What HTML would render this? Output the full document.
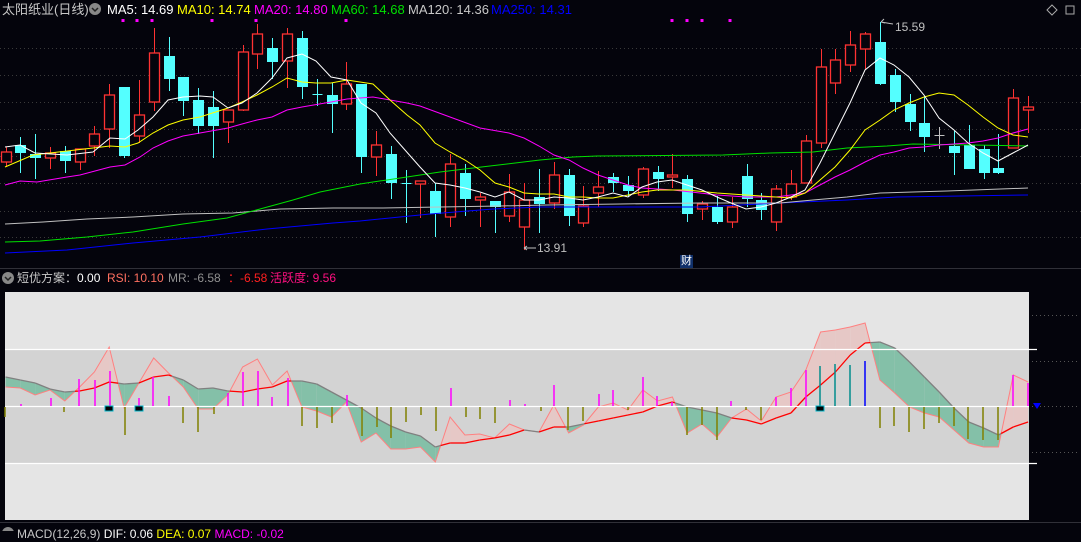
<!DOCTYPE html>
<html><head><meta charset="utf-8">
<style>
html,body{margin:0;padding:0;background:#04040c;}
body{width:1081px;height:531px;overflow:hidden;position:relative;font-family:"Liberation Sans","Noto Sans CJK SC",sans-serif;}
.t{position:absolute;font-size:13px;white-space:nowrap;line-height:16px;}
.u{font-size:12px;}
</style></head><body>
<svg id="s" width="1081" height="531" style="position:absolute;left:0;top:0" xmlns="http://www.w3.org/2000/svg"></svg>
<div class="t" style="left:2px;top:2px;color:#c8c8c8">太阳纸业(日线)</div>
<div class="t" style="left:107px;top:2px;color:#fff">MA5: 14.69</div>
<div class="t" style="left:177px;top:2px;color:#ffff00">MA10: 14.74</div>
<div class="t" style="left:254px;top:2px;color:#ff00ff">MA20: 14.80</div>
<div class="t" style="left:331px;top:2px;color:#00e000">MA60: 14.68</div>
<div class="t" style="left:408px;top:2px;color:#c8c8c8">MA120: 14.36</div>
<div class="t" style="left:491px;top:2px;color:#0000ff">MA250: 14.31</div>
<div class="t u" style="left:17px;top:270px;color:#c8c8c8">短优方案：<span style="color:#fff">0.00</span></div>
<div class="t u" style="left:107px;top:270px;color:#ff7060">RSI: 10.10</div>
<div class="t u" style="left:168px;top:270px;color:#909090">MR: -6.58</div>
<div class="t u" style="left:228px;top:270px;color:#ff2020">：-6.58</div>
<div class="t u" style="left:270px;top:270px;color:#ff1080">活跃度: 9.56</div>
<div class="t u" style="left:17px;top:526px;color:#c8c8c8">MACD(12,26,9) <span style="color:#fff">DIF: 0.06</span> <span style="color:#ff0">DEA: 0.07</span> <span style="color:#f0f">MACD: -0.02</span></div>
<div class="t" style="left:895px;top:19px;color:#c0c0c0;font-size:12px">15.59</div>
<div class="t" style="left:537px;top:240px;color:#c0c0c0;font-size:12px">13.91</div>
<div class="t" style="left:680px;top:255px;color:#fff;background:#10306a;font-size:11px;line-height:13px;padding:0 1px">财</div>
<script>
var s=document.getElementById('s'),h='';
function X(i){return 5.5+14.82*i;}
[48,75,102,129,156,183,211,237].forEach(function(y){h+='<line x1="0" x2="1081" y1="'+y+'.5" y2="'+y+'.5" stroke="#3a3a3a" stroke-dasharray="1,3"/>';});
h+='<circle cx="95" cy="9" r="6" fill="#888"/><path d="M92 8l3 3 3-3" stroke="#222" stroke-width="1.5" fill="none"/>';
h+='<circle cx="8" cy="278" r="6" fill="#888"/><path d="M5 277l3 3 3-3" stroke="#222" stroke-width="1.5" fill="none"/>';
h+='<circle cx="8" cy="533" r="6" fill="#888"/>';
h+='<path d="M1052 5l5 5-5 5-5-5z" stroke="#aaa" fill="none"/><rect x="1066" y="6" width="8" height="8" stroke="#aaa" fill="none"/>';
[123,137,152,212,256,346,672,687,702,730].forEach(function(x){h+='<rect x="'+(x-1.5)+'" y="19" width="3" height="3" fill="#ff00ff"/>';});
var ma=[
['#0000ff','5,253 67,250 133,243 200,237 267,229 333,223 360,221 430,214 493,209 540,207 700,207 780,203 847,200 897,197 1028,195'],
['#c0c0c0','5,224 43,222 87,219 133,217 183,214 233,213 280,209 333,208 383,208 440,207 500,206 547,205 620,204 700,203 780,203 813,200 847,197 880,193 913,192 947,191 1028,188'],
['#00e000','5,242 40,241 87,237 133,232 183,224 227,218 260,209 293,200 320,192 360,184 373,182 407,177 440,172 473,168 507,164 540,160 573,157 597,156 723,155 770,153 813,152 847,148 887,146 913,144 1028,146'],
['#ff00ff','5,185 20,181 37,182 67,177 80,175 110,167 125,165 140,157 153,148 168,141 183,136 200,133 228,128 242,124 257,120 272,117 287,110 302,107 331,102 347,99 373,97 407,103 420,106 450,117 480,128 509,133 524,138 539,146 554,155 569,160 583,168 598,175 613,180 628,185 642,188 673,190 700,193 717,195 746,197 776,197 791,195 805,193 820,185 835,177 850,170 865,162 880,155 894,152 909,148 924,147 939,145 954,144 968,143 983,141 998,138 1013,133 1028,129'],
['#ffff00','5,167 33,155 67,151 93,148 110,146 125,147 138,143 153,133 168,125 183,120 200,117 228,108 242,102 257,95 272,87 287,78 302,82 316,83 331,83 347,80 373,84 390,100 407,115 420,125 435,143 450,152 465,160 480,170 495,183 509,187 524,193 539,194 554,194 569,197 583,197 598,198 613,198 628,195 642,192 657,190 687,190 717,193 746,195 776,197 791,198 805,193 820,180 835,167 850,150 865,130 880,120 894,110 909,103 924,97 939,93 954,95 968,105 983,117 998,128 1013,135 1028,137'],
['#ffffff','5,147 20,145 35,153 67,155 93,152 110,138 125,139 138,130 153,117 168,100 183,97 200,96 213,97 228,108 242,103 257,93 272,78 287,58 302,54 316,61 331,77 347,80 361,103 376,113 390,133 405,150 420,167 435,183 450,185 465,188 480,192 495,197 509,192 524,200 539,200 554,197 569,198 583,200 598,197 613,193 628,197 642,187 657,182 672,180 687,185 702,190 717,197 731,203 746,209 761,207 776,203 791,197 805,190 820,163 835,133 850,103 865,70 880,58 894,65 909,77 924,95 939,118 954,130 968,143 983,153 998,161 1013,153 1028,145']
];
var C=[['r',147,167,152,162],['c',137,173,145,153],['c',134,179,154,158],['r',147,169,153,158],['c',146,173,151,161],['r',149,170,149,162],['r',126,156,134,146],['r',84,148,95,129],['c',87,158,87,156],['r',80,143,115,136],['r',28,111,53,102],['c',37,91,56,79],['c',77,116,77,101],['c',88,134,100,126],['c',91,158,107,126],['r',110,143,110,122],['r',45,111,52,110],['r',24,69,34,54],['c',38,79,48,62],['r',28,88,34,61],['c',31,99,38,87],['x',79,106,94,94],['c',83,133,95,104],['r',62,110,84,104],['c',84,173,84,157],['r',131,176,145,157],['c',146,199,154,183],['x',170,223,183,183],['r',181,218,181,184],['c',183,237,191,214],['r',154,227,164,217],['c',164,216,173,199],['r',193,227,197,200],['c',201,233,201,207],['r',174,222,192,216],['r',183,250,200,227],['c',169,233,197,204],['r',162,209,175,203],['c',169,226,175,216],['r',186,227,206,223],['r',171,207,187,193],['c',173,192,177,183],['c',176,197,185,191],['r',167,198,169,195],['c',166,191,172,179],['r',154,188,175,177],['c',175,222,179,214],['r',201,220,204,209],['c',196,224,207,222],['r',197,228,207,222],['c',164,207,176,199],['c',193,220,200,210],['r',185,231,189,222],['r',170,200,184,197],['r',135,183,141,183],['r',49,148,67,143],['r',49,94,60,83],['r',31,72,45,65],['r',32,69,34,49],['c',22,85,42,84],['c',69,112,75,102],['c',94,131,104,122],['c',96,152,123,137],['g',127,149,135,135],['c',131,175,146,153],['c',125,169,145,169],['c',145,179,149,173],['c',134,174,168,173],['r',89,148,98,148],['r',96,133,107,110]];
C.forEach(function(c,i){var x=Math.round(X(i))+0.5,col=c[0]=='r'?'#ff3232':(c[0]=='g'?'#c0c0c0':'#54ffff');
h+='<line x1="'+x+'" x2="'+x+'" y1="'+c[1]+'" y2="'+c[2]+'" stroke="'+col+'"/>';
if(c[0]=='r'){h+='<rect x="'+(x-5)+'" y="'+c[3]+'" width="10" height="'+Math.max(1,c[4]-c[3])+'" fill="#04040c" stroke="'+col+'" stroke-width="1.3"/>';}
else if(c[0]=='c'){h+='<rect x="'+(x-5.5)+'" y="'+c[3]+'" width="11" height="'+Math.max(1,c[4]-c[3])+'" fill="'+col+'"/>';}
else{h+='<line x1="'+(x-5)+'" x2="'+(x+5)+'" y1="'+c[3]+'.5" y2="'+c[3]+'.5" stroke="'+col+'"/>';}
});
ma.forEach(function(m){h+='<polyline points="'+m[1]+'" fill="none" stroke="'+m[0]+'" stroke-width="1"/>';});
h+='<path d="M881 22l3-3M881 22l4 1M881 22l12 2" stroke="#c0c0c0" fill="none"/>';
h+='<path d="M524 248h12M524 248l3-2M524 248l3 2" stroke="#c0c0c0" fill="none"/>';
h+='<line x1="0" x2="1081" y1="268.5" y2="268.5" stroke="#303038"/>';
h+='<line x1="0" x2="1081" y1="522.5" y2="522.5" stroke="#303038"/>';
h+='<rect x="5" y="292" width="1024" height="228" fill="#e5e5e5"/><rect x="5" y="349" width="1024" height="114" fill="#d3d3d3"/>';
[315,361,406,452].forEach(function(y){h+='<line x1="1032" x2="1078" y1="'+y+'.5" y2="'+y+'.5" stroke="#555" stroke-dasharray="1,3"/>';});
var F=[387,388,395,390,401,387,372,347,408,383,358,373,387,409,409,395,367,359,385,371,407,411,417,402,442,433,449,449,447,462,417,435,434,438,424,430,432,405,433,425,407,403,410,390,401,397,433,424,437,418,409,421,397,392,370,332,330,327,323,380,393,407,413,417,430,443,447,447,375,382];
var S=[377,380,383,389,392,391,388,382,384,383,377,375,380,389,388,391,392,389,387,381,381,384,392,400,408,418,426,432,436,447,443,443,440,438,435,430,432,427,427,424,421,418,415,412,406,402,407,410,413,418,420,424,418,413,397,385,372,355,343,342,348,362,377,392,408,422,428,435,427,422];
var PK='#e6c8c6',GR='#84c0a8',sl='';
function poly(p,c){return '<polygon points="'+p.map(function(q){return q[0].toFixed(1)+','+q[1].toFixed(1);}).join(' ')+'" fill="'+c+'"/>';}
for(var i=0;i<69;i++){var x0=X(i),x1=X(i+1),d0=F[i]-S[i],d1=F[i+1]-S[i+1];
if(d0*d1>=0){var c=(d0+d1)<0?PK:GR;h+=poly([[x0,F[i]],[x1,F[i+1]],[x1,S[i+1]],[x0,S[i]]],c);
sl+='<line x1="'+x0+'" y1="'+S[i]+'" x2="'+x1+'" y2="'+S[i+1]+'" stroke="'+(c==PK?'#ff0000':'#808080')+'" stroke-width="1.3"/>';}
else{var t=d0/(d0-d1),xm=x0+t*(x1-x0),ym=S[i]+t*(S[i+1]-S[i]);
var c0=d0<0?PK:GR,c1=d1<0?PK:GR;
h+=poly([[x0,F[i]],[xm,ym],[x0,S[i]]],c0)+poly([[xm,ym],[x1,F[i+1]],[x1,S[i+1]]],c1);
sl+='<line x1="'+x0+'" y1="'+S[i]+'" x2="'+xm+'" y2="'+ym+'" stroke="'+(c0==PK?'#ff0000':'#808080')+'" stroke-width="1.3"/>';
sl+='<line x1="'+xm+'" y1="'+ym+'" x2="'+x1+'" y2="'+S[i+1]+'" stroke="'+(c1==PK?'#ff0000':'#808080')+'" stroke-width="1.3"/>';}}
h+='<polyline points="'+F.map(function(v,i){return X(i).toFixed(1)+','+v;}).join(' ')+'" fill="none" stroke="#ff8080" stroke-width="1"/>';
h+=sl;
h+='<line x1="5" x2="1037" y1="349.5" y2="349.5" stroke="#fff" stroke-width="1.3"/><line x1="5" x2="1037" y1="463.5" y2="463.5" stroke="#fff" stroke-width="1.3"/><line x1="5" x2="1029" y1="406.5" y2="406.5" stroke="#fff" stroke-width="1.3"/>';
var up=[[21,404],[51,398],[79,379],[95,380],[110,371],[139,398],[153,377],[169,396],[228,393],[243,372],[258,371],[272,397],[288,378],[347,395],[451,388],[510,400],[525,404],[554,385],[599,394],[613,390],[643,377],[657,396],[672,402],[731,401],[776,397],[791,388],[806,370],[1013,375],[1028,383]];
up.forEach(function(b){h+='<line x1="'+b[0]+'" x2="'+b[0]+'" y1="'+b[1]+'" y2="406" stroke="#ff00ff" stroke-width="1.5"/>';});
[[820,366,'#008c8c'],[835,364,'#008c8c'],[850,365,'#008c8c'],[865,361,'#0000ff']].forEach(function(b){h+='<line x1="'+b[0]+'" x2="'+b[0]+'" y1="'+b[1]+'" y2="406" stroke="'+b[2]+'" stroke-width="1.5"/>';});
var dn=[[5,417],[64,412],[125,435],[183,423],[198,432],[214,414],[302,426],[317,428],[332,423],[362,436],[377,427],[391,438],[406,422],[421,415],[436,431],[466,417],[480,419],[495,423],[541,411],[568,430],[583,421],[628,410],[687,435],[702,425],[717,440],[746,410],[761,420],[880,428],[894,426],[909,432],[924,429],[939,423],[954,426],[968,439],[983,440],[998,440]];
dn.forEach(function(b){h+='<line x1="'+b[0]+'" x2="'+b[0]+'" y1="407" y2="'+b[1]+'" stroke="#808000" stroke-width="1.5"/>';});
[109,139,820].forEach(function(x){h+='<rect x="'+(x-4)+'" y="406" width="8" height="5" fill="#000" stroke="#00b4c8" stroke-width="1"/>';});
h+='<path d="M1033 403h8l-4 6z" fill="#0000ff"/>';
s.innerHTML=h;
</script>
</body></html>
